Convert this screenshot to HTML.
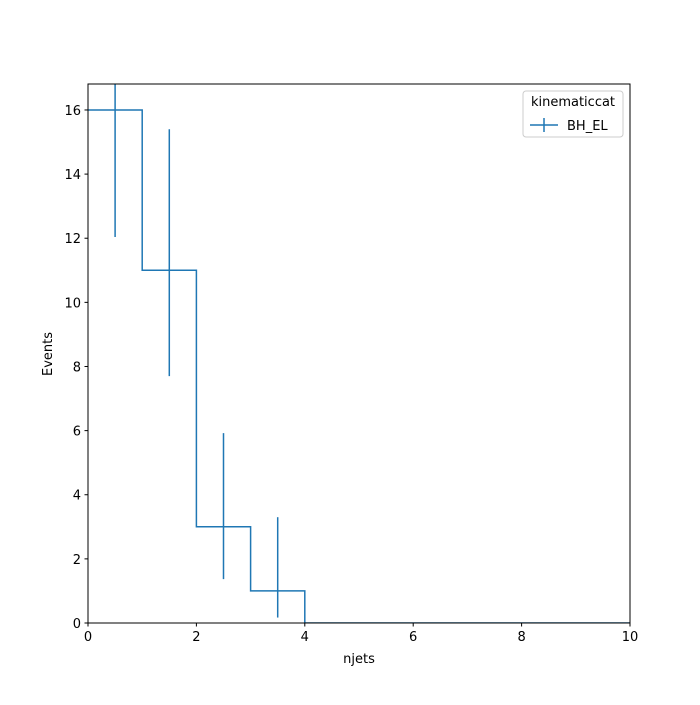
<!DOCTYPE html>
<html><head><meta charset="utf-8"><style>
body{margin:0;background:#fff}
svg text{font-family:"DejaVu Sans","Liberation Sans",sans-serif;font-size:13px;fill:#000}
</style></head><body>
<svg id="chart" width="700" height="700">
<rect width="700" height="700" fill="#fff"/>
<g id="plot"></g>
<rect x="88" y="84" width="542" height="539" fill="none" stroke="#000" stroke-width="1"/>
<text x="359" y="663" text-anchor="middle">njets</text>
<text transform="translate(52,354) rotate(-90)" text-anchor="middle">Events</text>
<g>
<rect x="523" y="91" width="100" height="46" rx="3" fill="#fff" stroke="#ccc"/>
<text x="573" y="106" text-anchor="middle">kinematiccat</text>
<line x1="530" y1="125" x2="558" y2="125" stroke="#1f77b4" stroke-width="1.5"/>
<line x1="544" y1="118" x2="544" y2="132" stroke="#1f77b4" stroke-width="1.5"/>
<text x="567" y="130">BH_EL</text>
</g>
</svg>
<script>
const edges=[0,1,2,3,4,5,6,7,8,9,10];
const counts=[16,11,3,1,0,0,0,0,0,0];
const errLow=[12.04,7.7,1.37,0.17,0,0,0,0,0,0];
const errHigh=[20.1,15.4,5.92,3.3,0,0,0,0,0,0];
const xTicks=[0,2,4,6,8,10];
const yTicks=[0,2,4,6,8,10,12,14,16];
const X0=88,X1=630,Y0=623,Y1=84,XMAX=10,YMAX=16.81;
const sx=v=>X0+(v/XMAX)*(X1-X0);
const sy=v=>Y0-(v/YMAX)*(Y0-Y1);
const NS="http://www.w3.org/2000/svg";
const g=document.getElementById('plot');
function mk(t,a){const e=document.createElementNS(NS,t);for(const k in a)e.setAttribute(k,a[k]);g.appendChild(e);return e;}
// clip
const defs=document.createElementNS(NS,'defs');defs.innerHTML='<clipPath id="c"><rect x="88" y="84" width="542" height="539"/></clipPath>';g.appendChild(defs);
let d='M'+sx(edges[0])+' '+sy(counts[0]);
for(let i=0;i<counts.length;i++){d+=' L'+sx(edges[i+1])+' '+sy(counts[i]);if(i+1<counts.length)d+=' L'+sx(edges[i+1])+' '+sy(counts[i+1]);}
const p=mk('path',{d:d,fill:'none',stroke:'#1f77b4','stroke-width':1.5,'clip-path':'url(#c)'});


for(let i=0;i<counts.length;i++){
 if(errHigh[i]<=errLow[i])continue;
 const cx=sx((edges[i]+edges[i+1])/2);
 const l=mk('line',{x1:cx,x2:cx,y1:sy(errLow[i]),y2:sy(errHigh[i]),stroke:'#1f77b4','stroke-width':1.5,'clip-path':'url(#c)'});
 
 
}
xTicks.forEach(v=>{
 const t=mk('line',{x1:sx(v),x2:sx(v),y1:Y0,y2:Y0+3.5,stroke:'#000'});
 
 
 const tx=mk('text',{x:sx(v),y:Y0+18,'text-anchor':'middle'});tx.textContent=v;
 
 
});
yTicks.forEach(v=>{
 const t=mk('line',{x1:X0-3.5,x2:X0,y1:sy(v),y2:sy(v),stroke:'#000'});
 
 
 const tx=mk('text',{x:X0-7,y:sy(v)+5,'text-anchor':'end'});tx.textContent=v;
 
 
});
</script>
</body></html>
